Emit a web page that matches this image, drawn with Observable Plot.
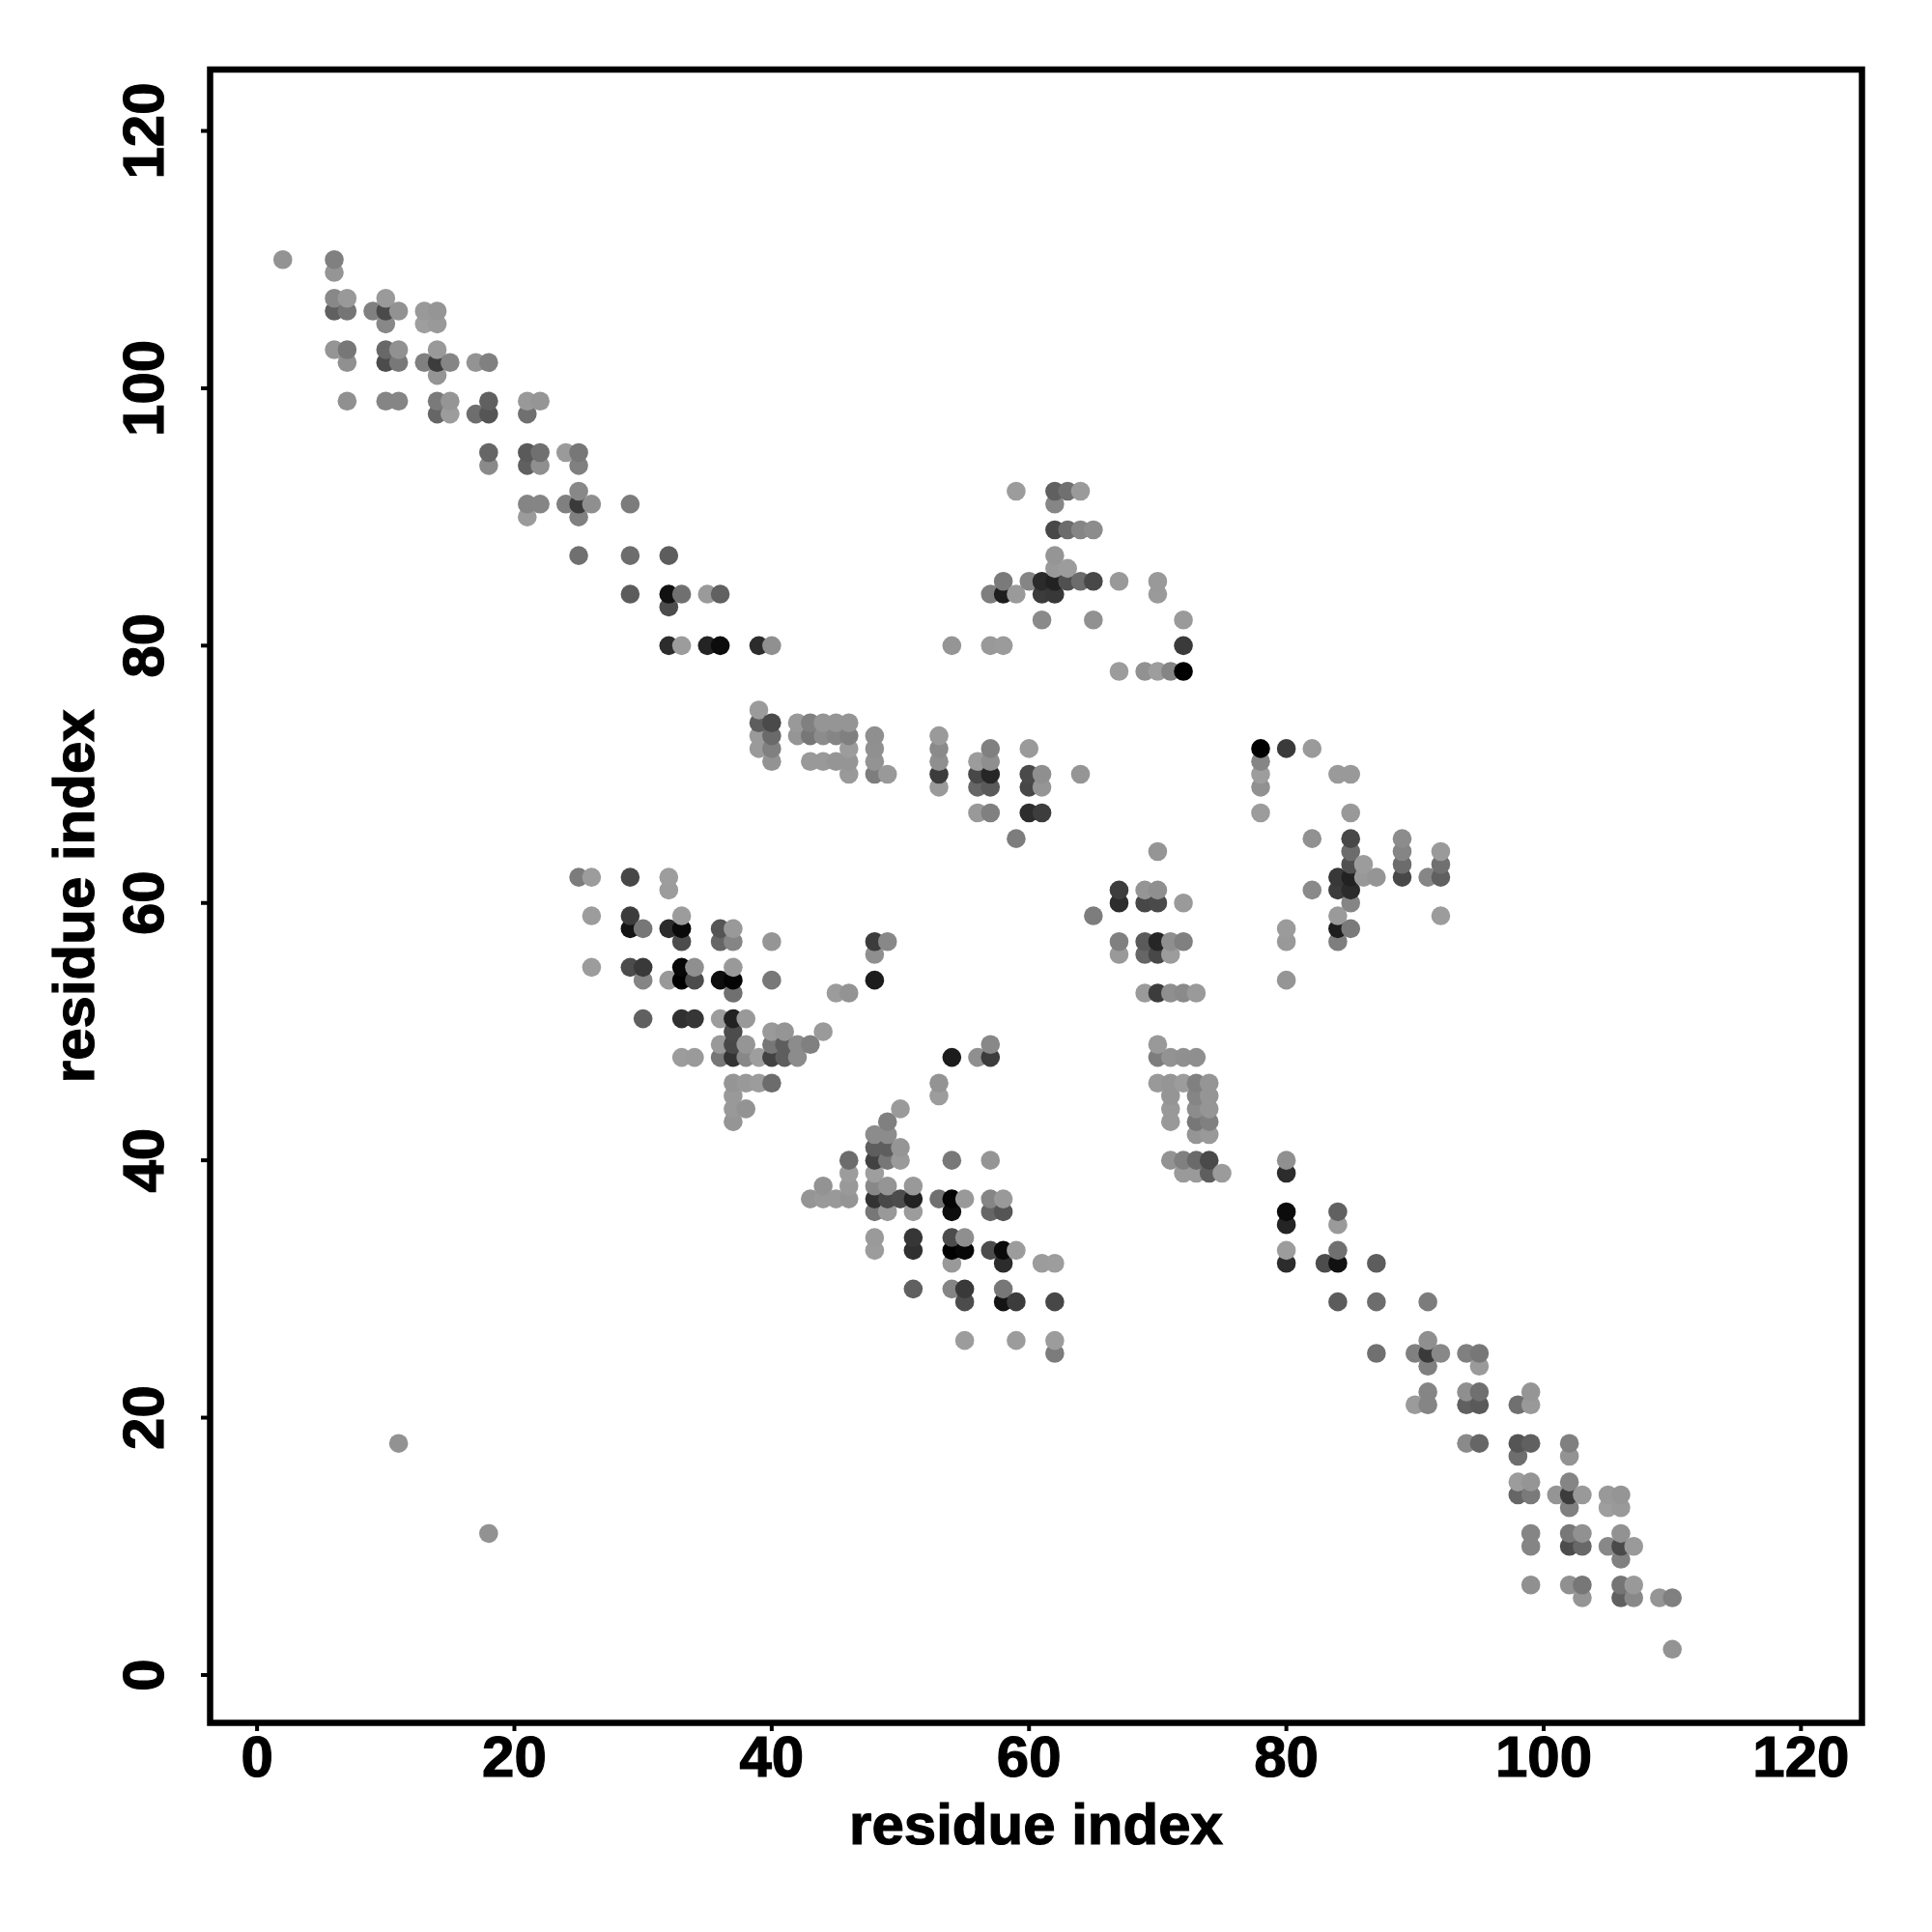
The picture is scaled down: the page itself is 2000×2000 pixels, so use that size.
<!DOCTYPE html>
<html>
<head>
<meta charset="utf-8">
<script src="https://cdn.jsdelivr.net/npm/d3@7"></script>
<script src="https://cdn.jsdelivr.net/npm/@observablehq/plot@0.6"></script>
<style>html,body{margin:0;padding:0;background:#fff}svg{display:block}svg text{stroke:#000;stroke-width:1.2px}</style>
</head>
<body>
<div id="chart"></div>
<script>
// each contact: [residue, residue, grey level]; the map is symmetric, so one triangle is listed
const xTicks = [0, 20, 40, 60, 80, 100, 120];
const yTicks = [0, 20, 40, 60, 80, 100, 120];
const axisLabel = "residue index";

const contactsStrandA = [
  [2,110,0x93],[6,110,0x80],[6,109,0x95],[6,107,0x88],[7,107,0x99],[6,106,0x60],[7,106,0x75],[9,106,0x80],
  [10,107,0x9a],[10,106,0x4a],[11,106,0x92],[10,105,0x88],[13,106,0x99],[14,106,0x95],[13,105,0x9e],[14,105,0x99],
  [6,103,0x95],[7,103,0x77],[7,102,0x90],[10,103,0x68],[11,103,0x91],[10,102,0x4c],[11,102,0x78],
  [14,103,0x99],[13,102,0x80],[14,102,0x3c],[15,102,0x85],[14,101,0x95],[17,102,0x93],[18,102,0x80],
  [7,99,0x90],[10,99,0x85],[11,99,0x85],[14,99,0x7a],[15,99,0x95],[14,98,0x66],[15,98,0x9c],
  [17,98,0x6e],[18,98,0x55],[18,99,0x60],[21,99,0x99],[22,99,0x95],[21,98,0x70],
  [18,95,0x66],[18,94,0x8a],[21,95,0x5a],[22,95,0x70],[21,94,0x60],[22,94,0x8f],[24,95,0x9a],[25,95,0x77],[25,94,0x80],
  [25,92,0x88],[21,91,0x85],[22,91,0x85],[24,91,0x80],[25,91,0x3a],[26,91,0x8f],[21,90,0x9b],[25,90,0x80],[29,91,0x7c],
  [25,87,0x70],[29,87,0x6d],[32,87,0x5d],[29,84,0x5c],[32,84,0x11],[33,84,0x70],[35,84,0x9a],[36,84,0x61],[32,83,0x4c],
  [32,80,0x2c],[33,80,0x9c],[35,80,0x24],[36,80,0x0c],[39,80,0x2c],[40,80,0x90]
];
const contactsBand = [
  [39,75,0x9b],[39,74,0x5e],[40,74,0x4a],[42,74,0x99],[43,74,0x80],[44,74,0x95],[45,74,0x95],[46,74,0x95],
  [39,73,0x9a],[40,73,0x6a],[42,73,0x95],[43,73,0x77],[44,73,0x8c],[45,73,0x85],[46,73,0x80],[48,73,0x8f],[53,73,0x9a],
  [39,72,0x9a],[40,72,0x80],[46,72,0x9c],[48,72,0x90],[53,72,0x8a],[57,72,0x80],[60,72,0x9a],
  [40,71,0x93],[43,71,0x99],[44,71,0x99],[45,71,0x95],[46,71,0x95],[48,71,0x93],[53,71,0x8f],[56,71,0x9c],[57,71,0x8f],
  [46,70,0x99],[48,70,0x7d],[49,70,0x99],[53,70,0x3c],[56,70,0x48],[57,70,0x26],[60,70,0x4a],[61,70,0x8f],[64,70,0x95],
  [53,69,0x9a],[56,69,0x66],[57,69,0x5a],[60,69,0x47],[61,69,0x95],
  [56,67,0x99],[57,67,0x80],[60,67,0x2d],[61,67,0x3d],[59,65,0x7d]
];
const contactsUpperCluster = [
  [59,92,0x9c],[62,92,0x60],[63,92,0x70],[64,92,0x9a],[62,91,0x86],[62,89,0x48],[63,89,0x6c],[64,89,0x85],[65,89,0x8c],
  [62,87,0x95],[62,86,0x99],[63,86,0x9c],
  [58,85,0x7a],[60,85,0x85],[61,85,0x2b],[62,85,0x22],[63,85,0x50],[64,85,0x6c],[65,85,0x48],[67,85,0x99],[70,85,0x99],
  [57,84,0x7e],[58,84,0x1e],[59,84,0x9a],[61,84,0x3c],[62,84,0x38],[70,84,0x9a],
  [61,82,0x8a],[65,82,0x91],[72,82,0x9a],[54,80,0x95],[57,80,0x99],[58,80,0x9b],[72,80,0x3a],
  [67,78,0x9c],[69,78,0x91],[70,78,0x9d],[71,78,0x85],[72,78,0x00]
];
const contactsInnerCluster = [
  [25,62,0x7c],[26,62,0x9c],[29,62,0x47],[32,62,0x9d],[32,61,0x9c],[26,59,0x9c],[29,59,0x3c],[33,59,0x9c],
  [29,58,0x14],[30,58,0x77],[32,58,0x2c],[33,58,0x0a],[36,58,0x55],[37,58,0x99],
  [33,57,0x4c],[36,57,0x66],[37,57,0x85],[40,57,0x95],[48,57,0x3c],[49,57,0x88],[48,56,0x8f],
  [26,55,0x9c],[29,55,0x4c],[30,55,0x39],[33,55,0x07],[34,55,0x8f],[37,55,0x99],
  [30,54,0x85],[32,54,0x99],[33,54,0x00],[34,54,0x4c],[36,54,0x0d],[37,54,0x04],[40,54,0x78],[48,54,0x1c],
  [37,53,0x70],[45,53,0x9c],[46,53,0x93],
  [30,51,0x60],[33,51,0x30],[34,51,0x36],[36,51,0x9c],[37,51,0x22],[38,51,0x99],
  [37,50,0x4c],[40,50,0x9a],[41,50,0x95],[44,50,0x9a],
  [36,49,0x99],[37,49,0x48],[38,49,0x95],[40,49,0x77],[41,49,0x5e],[42,49,0x8c],[43,49,0x80],
  [33,48,0x9c],[34,48,0x9a],[36,48,0x77],[37,48,0x33],[38,48,0x88],[39,48,0x9e],[40,48,0x42],[41,48,0x5e],[42,48,0x8c],
  [37,46,0x95],[38,46,0x99],[39,46,0x9c],[40,46,0x6c],[37,45,0x99],[37,44,0x99],[38,44,0x93],[37,43,0x95]
];
const contactsIsolated = [[11,18,0x92]];

const upper = [...contactsStrandA, ...contactsBand, ...contactsUpperCluster, ...contactsInnerCluster, ...contactsIsolated];
const table = upper.flatMap(([a, b, g]) => [{x: a, y: b, g}, {x: b, y: a, g}]);
const ordered = d3.sort(table, d => d.x, d => d.y);

const chart = Plot.plot({
  width: 2000,
  height: 2000,
  marginLeft: 217,
  marginRight: 73,
  marginTop: 71.5,
  marginBottom: 217,
  style: {fontFamily: "'Liberation Sans', Arial, sans-serif", fontWeight: "bold", fontSize: "60px", background: "#fff", color: "#000"},
  x: {domain: [-3.65, 124.74]},
  y: {domain: [-3.72, 124.77]},
  color: {type: "linear", domain: [0, 255], range: ["#000000", "#ffffff"], interpolate: "rgb"},
  marks: [
    Plot.dot(ordered, {x: "x", y: "y", r: 9.8, fill: "g", stroke: "none"}),
    Plot.frame({stroke: "#000", strokeWidth: 6.5}),
    Plot.axisX({ticks: xTicks, tickSize: 9, tickPadding: 4, strokeWidth: 4, fontSize: 60, label: axisLabel, labelAnchor: "center", labelArrow: "none", labelOffset: 125}),
    Plot.axisY({ticks: yTicks, tickSize: 9, tickPadding: 40, strokeWidth: 4, fontSize: 60, tickRotate: -90, label: axisLabel, labelAnchor: "center", labelArrow: "none", labelOffset: 163})
  ]
});
document.getElementById("chart").appendChild(chart);
</script>
</body>
</html>
